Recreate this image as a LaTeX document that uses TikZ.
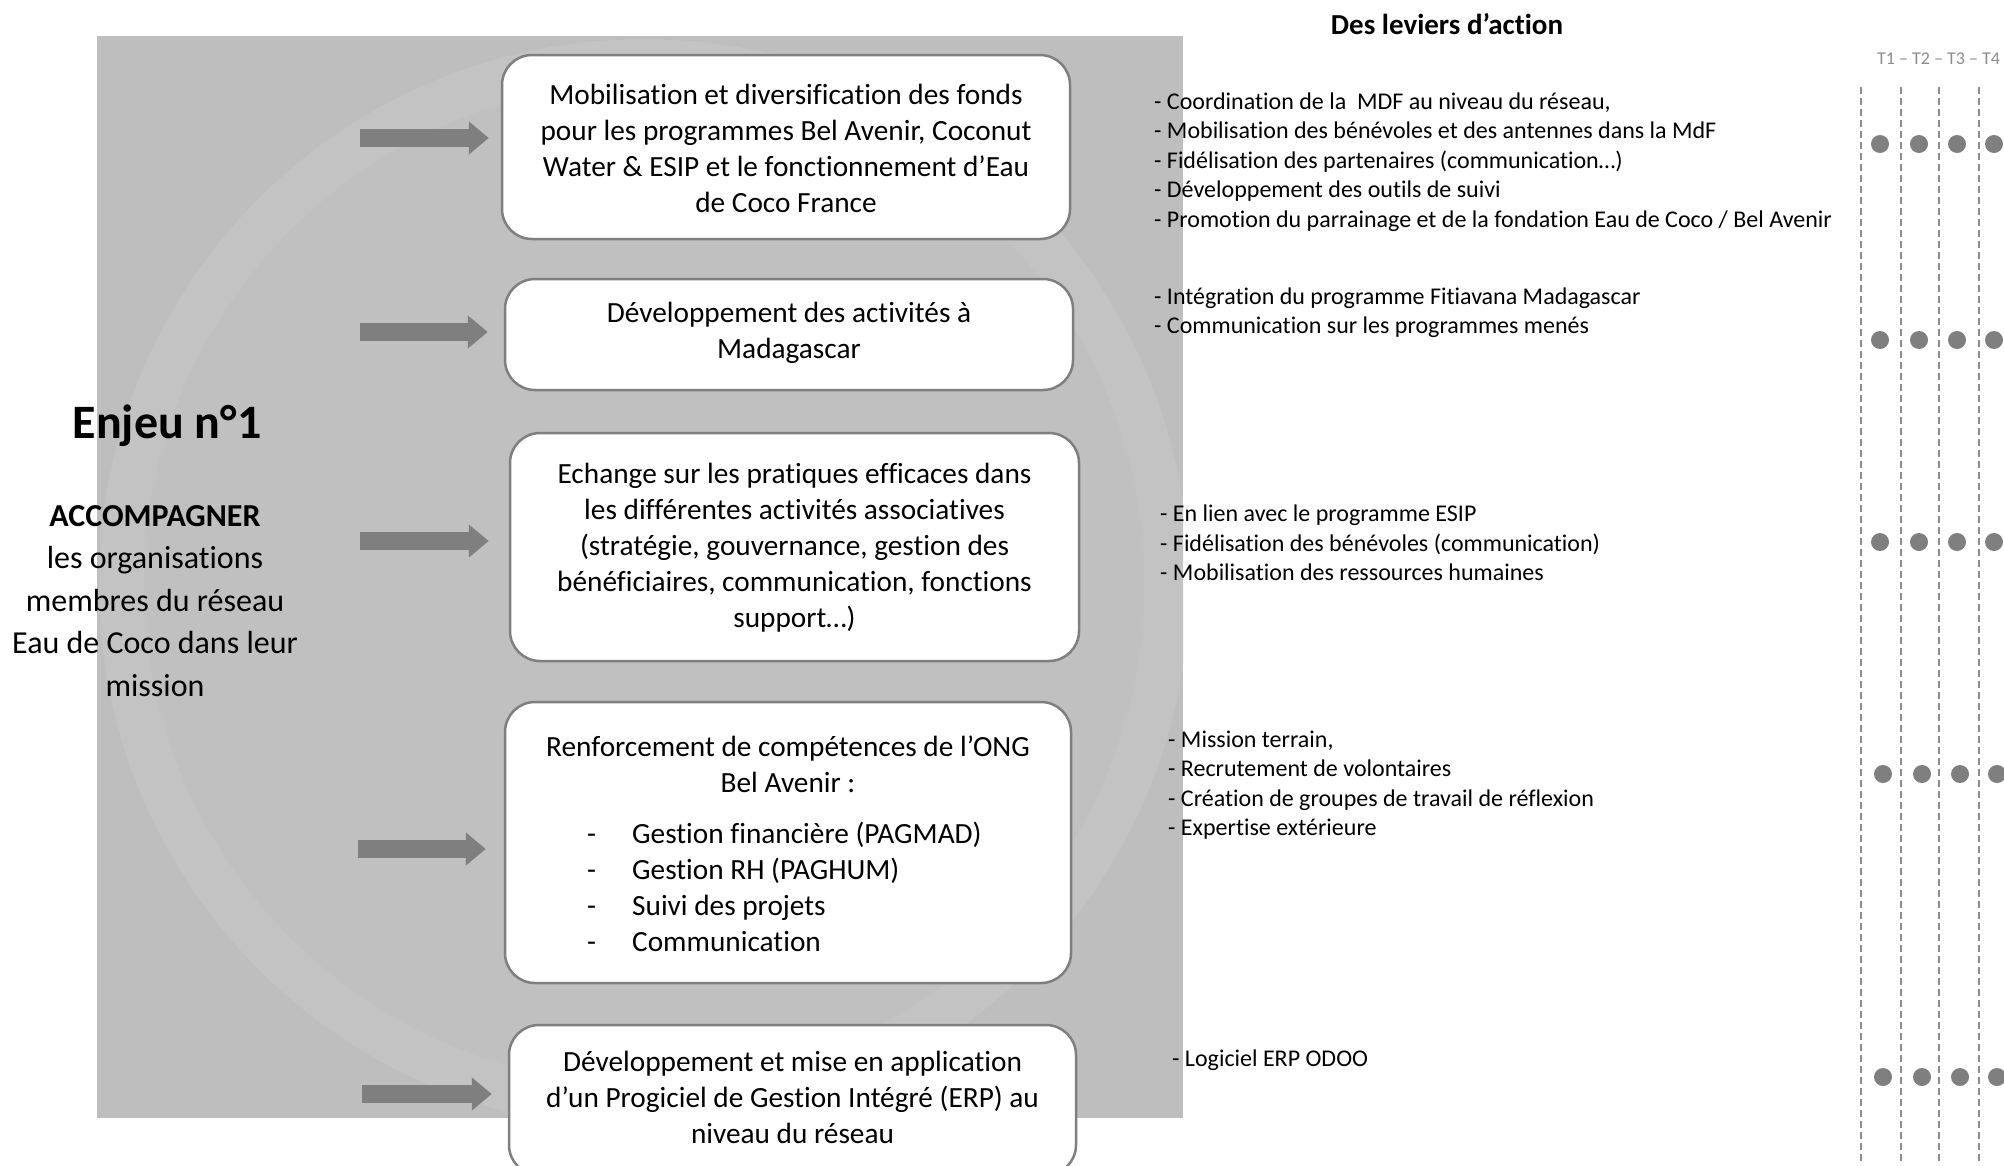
\documentclass[tikz,border=0pt]{standalone}
\usepackage{fontspec}
\setmainfont{Carlito}[Ligatures=NoCommon]
\usetikzlibrary{arrows.meta}
\definecolor{bggrey}{HTML}{BEBEBE}
\definecolor{wmgrey}{HTML}{C3C3C3}
\definecolor{wminner}{HTML}{C0C0C0}
\definecolor{edgegrey}{HTML}{7F7F7F}
\definecolor{dotgrey}{HTML}{7F7F7F}
\definecolor{dashgrey}{HTML}{8C8C8C}
\definecolor{tgrey}{HTML}{8C8C8C}
\tikzset{
  box/.style={draw=edgegrey, line width=2.5pt, fill=white, rounded corners=30pt, inner sep=0pt},
  boxtext/.style={align=center, inner sep=0pt, font=\fontsize{29.3}{36}\selectfont},
  levertext/.style={align=left, anchor=west, inner sep=0pt, font=\fontsize{24}{29.4}\selectfont},
  blk/.style={draw=edgegrey, line width=18pt, -{Triangle[width=32pt,length=20pt]}},
  timeline/.style={draw=dashgrey, line width=1.5pt, dash pattern=on 7pt off 4pt},
  dot/.style={circle, fill=dotgrey, minimum size=18pt, inner sep=0pt},
}
\begin{document}
\begin{tikzpicture}[x=1pt,y=-1pt]
\useasboundingbox (0,0) rectangle (2004,1165);
% background panel with faint watermark
\begin{scope}
  \clip (97,36) rectangle (1183,1118);
  \fill[bggrey] (97,36) rectangle (1183,1118);
  \fill[wmgrey] (644,584) circle (545);
  \fill[wminner] (644,584) circle (500);
\end{scope}

% left title
\node[inner sep=0pt, font=\fontsize{48}{58}\selectfont\bfseries] (enjeu) at (167,426) {Enjeu n°1};
\node[align=center, inner sep=0pt, font=\fontsize{32}{42.6}\selectfont] (accomp) at (155,601)
  {\textbf{ACCOMPAGNER}\\les organisations\\membres du réseau\\Eau de Coco dans leur\\mission};

% boxes
\node[box, minimum width=568pt, minimum height=184pt] (b1) at (786,147) {};
\node[boxtext] (t1) at (786,148) {Mobilisation et diversification des fonds\\pour les programmes Bel Avenir, Coconut\\Water \& ESIP et le fonctionnement d’Eau\\de Coco France};

\node[box, minimum width=568pt, minimum height=111pt] (b2) at (789,334.5) {};
\node[boxtext] (t2) at (789,333) {Développement des activités à\\Madagascar};

\node[box, minimum width=569pt, minimum height=228pt] (b3) at (794.5,547) {};
\node[boxtext] (t3) at (794.5,548) {Echange sur les pratiques efficaces dans\\les différentes activités associatives\\(stratégie, gouvernance, gestion des\\bénéficiaires, communication, fonctions\\support…)};

\node[box, minimum width=566pt, minimum height=281pt] (b4) at (788,842.5) {};
\node[boxtext] (t4a) at (788,764) {Renforcement de compétences de l’ONG\\Bel Avenir :};
\node[boxtext, align=left, anchor=west] (t4b) at (587,887)
  {\makebox[45pt][l]{-}Gestion financière (PAGMAD)\\\makebox[45pt][l]{-}Gestion RH (PAGHUM)\\\makebox[45pt][l]{-}Suivi des projets\\\makebox[45pt][l]{-}Communication};

\node[box, minimum width=567pt, minimum height=150pt] (b5) at (792.5,1100) {};
\node[boxtext] (t5) at (792.5,1097) {Développement et mise en application\\d’un Progiciel de Gestion Intégré (ERP) au\\niveau du réseau};

% arrows
\coordinate (a1) at (360,138);
\coordinate (a2) at (360,332);
\coordinate (a3) at (360,541);
\coordinate (a4) at (358,849);
\coordinate (a5) at (362,1094);
\draw[blk, shorten >=12pt] (a1) -- (a1 -| b1.west);
\draw[blk, shorten >=16pt] (a2) -- (a2 -| b2.west);
\draw[blk, shorten >=20pt] (a3) -- (a3 -| b3.west);
\draw[blk, shorten >=18pt] (a4) -- (a4 -| b4.west);
\draw[blk, shorten >=16pt] (a5) -- (a5 -| b5.west);

% levers title
\node[inner sep=0pt, font=\fontsize{29}{35}\selectfont\bfseries] (lev) at (1447,24) {Des leviers d’action};

% lever texts
\node[levertext] (l1) at (1154,162) {- Coordination de la\ \ MDF au niveau du réseau,\\- Mobilisation des bénévoles et des antennes dans la MdF\\- Fidélisation des partenaires (communication…)\\- Développement des outils de suivi\\- Promotion du parrainage et de la fondation Eau de Coco / Bel Avenir};
\node[levertext] (l2) at (1154,313) {- Intégration du programme Fitiavana Madagascar\\- Communication sur les programmes menés};
\node[levertext] (l3) at (1160,543) {- En lien avec le programme ESIP\\- Fidélisation des bénévoles (communication)\\- Mobilisation des ressources humaines};
\node[levertext] (l4) at (1168,785) {- Mission terrain,\\- Recrutement de volontaires\\- Création de groupes de travail de réflexion\\- Expertise extérieure};
\node[levertext] (l5) at (1172,1060) {- Logiciel ERP ODOO};

% timeline
\node[anchor=west, inner sep=0pt, text=tgrey, font=\fontsize{18}{22}\selectfont] (tt) at (1877,59) {T1 – T2 – T3 – T4};
\foreach \xx/\nm in {1861/v1,1901/v2,1939/v3,1979/v4}{
  \coordinate (\nm top) at (\xx,87);
  \coordinate (\nm bot) at (\xx,1165);
  \draw[timeline] (\nm top) -- (\nm bot);
}
\foreach \yy/\r/\dx in {144/1/0,340/2/0,542/3/0,774/4/3,1077/5/3}{
  \foreach \xx/\c in {1880/1,1919/2,1957/3,1994/4}{
    \node[dot] (d\r\c) at (\xx+\dx,\yy) {};
  }
}
\end{tikzpicture}
\end{document}
